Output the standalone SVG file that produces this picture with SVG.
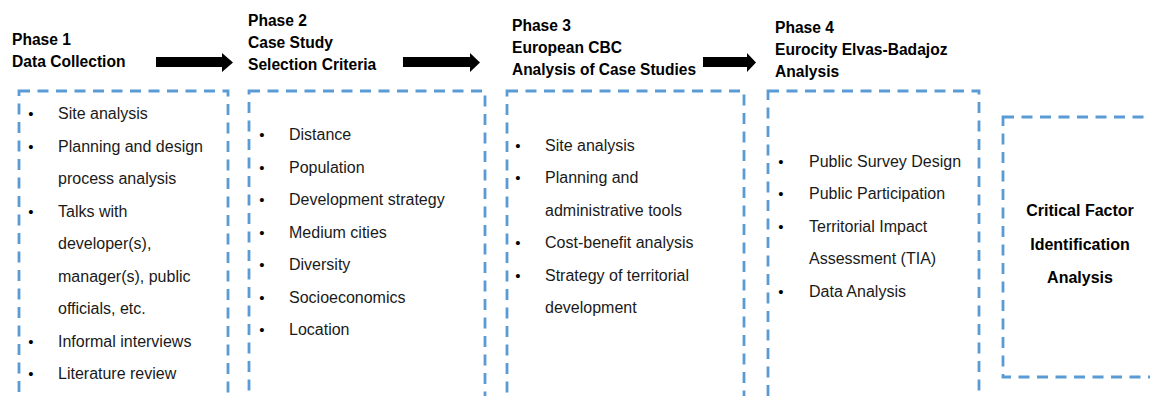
<svg xmlns="http://www.w3.org/2000/svg" width="1150" height="396" viewBox="0 0 1150 396">
<style>
.box{fill:none;stroke:#5B9BD5;stroke-width:2.8;stroke-dasharray:11 7.5}
.h{font-family:"Liberation Sans",Arial,sans-serif;font-weight:bold;font-size:15.6px;fill:#000}
.t{font-family:"Liberation Sans",Arial,sans-serif;font-size:16px;fill:#1a1a1a}
.b{font-family:"Liberation Sans",Arial,sans-serif;font-size:15px;fill:#000;text-anchor:middle}
.c{font-family:"Liberation Sans",Arial,sans-serif;font-weight:bold;font-size:16px;fill:#000;text-anchor:middle}
.arr{fill:#000}
</style>
<rect width="1150" height="396" fill="#fff"/>
<g id="connectors">
<polygon class="arr" points="156,57 222,57 222,53 233,62.5 222,72 222,67 156,67"/>
<polygon class="arr" points="403,57 470,57 470,53 480,62.5 470,72 470,67 403,67"/>
<polygon class="arr" points="703,57 747,57 747,53 756,62.5 747,72 747,67 703,67"/>
</g>
<g id="phase1">
<text class="h" x="12" y="45">Phase 1</text>
<text class="h" x="12" y="67">Data Collection</text>
<rect class="box" x="19" y="91" width="209" height="330"/>
<text class="b" x="31" y="119">•</text><text class="t" x="58" y="119">Site analysis</text>
<text class="b" x="31" y="151.5">•</text><text class="t" x="58" y="151.5">Planning and design</text>
<text class="t" x="58" y="184">process analysis</text>
<text class="b" x="31" y="216.5">•</text><text class="t" x="58" y="216.5">Talks with</text>
<text class="t" x="58" y="249">developer(s),</text>
<text class="t" x="58" y="281.5">manager(s), public</text>
<text class="t" x="58" y="314">officials, etc.</text>
<text class="b" x="31" y="346.5">•</text><text class="t" x="58" y="346.5">Informal interviews</text>
<text class="b" x="31" y="379">•</text><text class="t" x="58" y="379">Literature review</text>
</g>
<g id="phase2">
<text class="h" x="248" y="26">Phase 2</text>
<text class="h" x="248" y="48">Case Study</text>
<text class="h" x="248" y="70">Selection Criteria</text>
<rect class="box" x="249" y="91" width="236" height="330"/>
<text class="b" x="262" y="140">•</text><text class="t" x="289" y="140">Distance</text>
<text class="b" x="262" y="172.5">•</text><text class="t" x="289" y="172.5">Population</text>
<text class="b" x="262" y="205">•</text><text class="t" x="289" y="205">Development strategy</text>
<text class="b" x="262" y="237.5">•</text><text class="t" x="289" y="237.5">Medium cities</text>
<text class="b" x="262" y="270">•</text><text class="t" x="289" y="270">Diversity</text>
<text class="b" x="262" y="302.5">•</text><text class="t" x="289" y="302.5">Socioeconomics</text>
<text class="b" x="262" y="335">•</text><text class="t" x="289" y="335">Location</text>
</g>
<g id="phase3">
<text class="h" x="512" y="31">Phase 3</text>
<text class="h" x="512" y="53">European CBC</text>
<text class="h" x="512" y="75" textLength="184" lengthAdjust="spacingAndGlyphs">Analysis of Case Studies</text>
<rect class="box" x="507" y="91" width="237" height="330"/>
<text class="b" x="518" y="150.5">•</text><text class="t" x="545" y="150.5">Site analysis</text>
<text class="b" x="518" y="183">•</text><text class="t" x="545" y="183">Planning and</text>
<text class="t" x="545" y="215.5">administrative tools</text>
<text class="b" x="518" y="248">•</text><text class="t" x="545" y="248">Cost-benefit analysis</text>
<text class="b" x="518" y="280.5">•</text><text class="t" x="545" y="280.5">Strategy of territorial</text>
<text class="t" x="545" y="313">development</text>
</g>
<g id="phase4">
<text class="h" x="775" y="32.5">Phase 4</text>
<text class="h" x="775" y="54.5">Eurocity Elvas-Badajoz</text>
<text class="h" x="775" y="76.5">Analysis</text>
<rect class="box" x="768" y="91" width="211" height="330"/>
<text class="b" x="781" y="166.5">•</text><text class="t" x="809" y="166.5">Public Survey Design</text>
<text class="b" x="781" y="199">•</text><text class="t" x="809" y="199">Public Participation</text>
<text class="b" x="781" y="231.5">•</text><text class="t" x="809" y="231.5">Territorial Impact</text>
<text class="t" x="809" y="264">Assessment (TIA)</text>
<text class="b" x="781" y="296.5">•</text><text class="t" x="809" y="296.5">Data Analysis</text>
</g>
<g id="critical">
<rect class="box" x="1003" y="117" width="170" height="260"/>
<text class="c" x="1080" y="216">Critical Factor</text>
<text class="c" x="1080" y="249.5">Identification</text>
<text class="c" x="1080" y="283">Analysis</text>
</g>
</svg>
